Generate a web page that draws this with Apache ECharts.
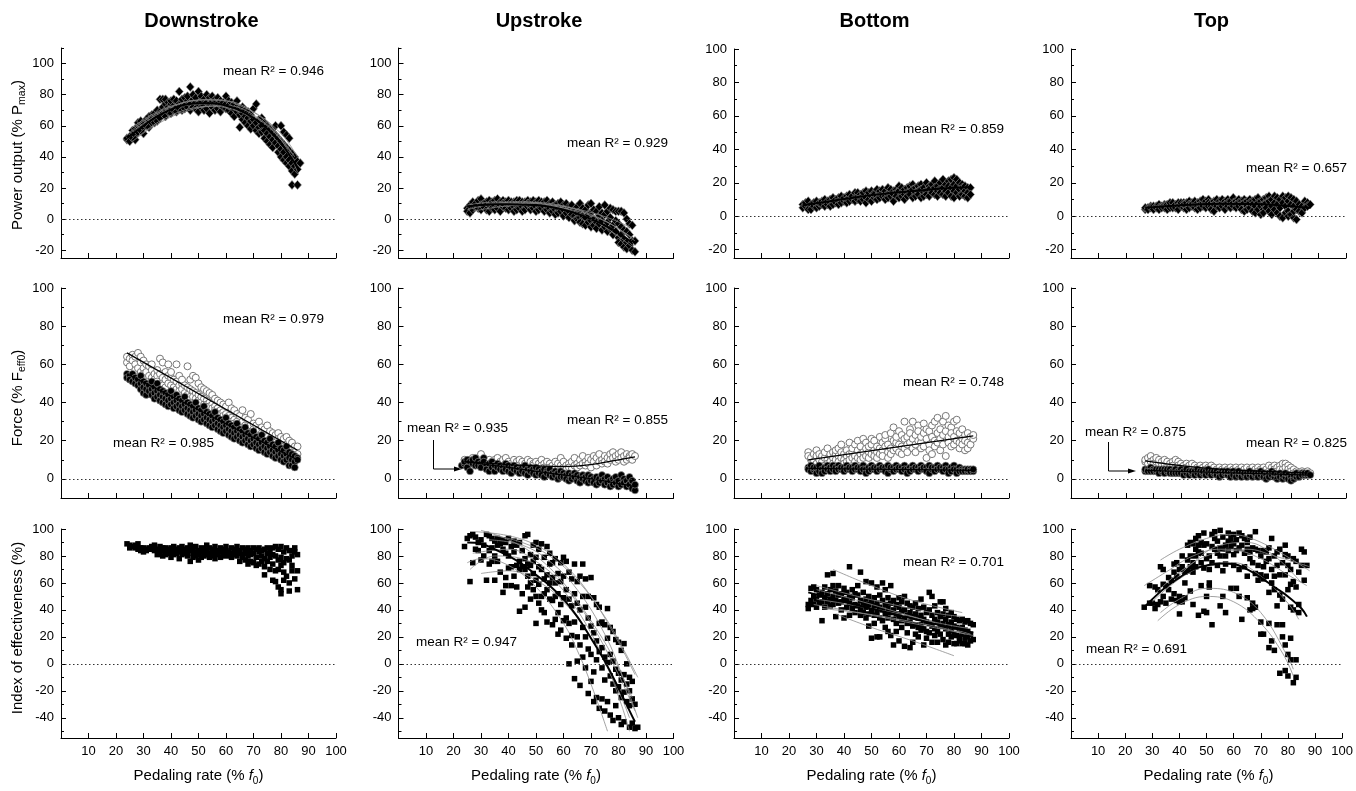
<!DOCTYPE html>
<html><head><meta charset="utf-8">
<script src="https://cdn.jsdelivr.net/npm/echarts@6/dist/echarts.min.js"></script>
<style>html,body{margin:0;padding:0;background:#fff}#c{width:1356px;height:791px}</style>
</head><body><div id="c"></div>
<script>
// ---------- category / tick data ----------
const columnTitles = ['Downstroke', 'Upstroke', 'Bottom', 'Top'];
const yMajorPow = [-20, 0, 20, 40, 60, 80, 100];
const yMinorPowTall = [-10, 10, 30, 50, 70, 90, 110];
const yMinorPow = [-10, 10, 30, 50, 70, 90];
const yMajorForce = [0, 20, 40, 60, 80, 100];
const yMinorForce = [10, 30, 50, 70, 90];
const yMajorIE = [-40, -20, 0, 20, 40, 60, 80, 100];
const yMinorIE = [-50, -30, -10, 10, 30, 50, 70, 90];

// ---------- Row 1: power output (rows: [x, y1, y2, ...]) ----------
const powDown = [[24,51,52],[25,53,50],[26,55,57,52],[27,54,58,51],[28,60,56,62],[29,57,61,63],[30,59,55,62],[31,64,60],[32,63,59,66],[33,62,67,65],[34,68,64,62],[35,66,70,63],[36,77,69,65],[37,68,72,77],[38,70,74,66,77],[39,72,69,75],[40,71,74,68,76],[41,73,70,77],[42,72,76,69],[43,82,74,71],[44,75,70,77],[45,73,78,71],[46,76,72,79],[47,85,74,70],[48,77,72,80],[49,75,71,78],[50,82,74,69],[51,76,72,79],[52,73,77,70],[53,80,75,71],[54,74,78,68],[55,76,72,79],[56,70,75,77],[57,74,71,78],[58,73,76,69],[59,72,75],[60,79,71,74],[61,70,76,73],[62,72,68,75],[63,71,66,74],[64,69,72,76],[65,67,71,59],[66,68,64,72],[67,66,70,62],[68,65,69,60],[69,63,67,58],[70,64,71,60],[71,62,74,57],[72,59,64,55],[73,60,56,65],[74,57,62,52],[75,55,60,50],[76,53,58,48],[77,51,56,46],[78,49,54,60],[79,47,52,43],[80,45,50,40,60],[81,43,48,38,56],[82,40,46,36,54],[83,38,44,34,52],[84,36,42,31,22],[85,34,40,29],[86,37,22,32],[87,36]];
const powDownMean = [[24,52],[30,60],[35,66],[40,70.5],[45,73.5],[50,74.5],[55,74.5],[60,73],[65,70],[70,65],[75,58],[80,49],[85,36],[86,33]];
const powDownFits = [
  [[24,54],[30,63],[40,72],[50,76.5],[60,76],[70,69],[80,55],[86,40]],
  [[26,59],[35,69],[45,75],[55,77],[65,73],[75,62],[85,40]],
  [[26,50],[35,61],[45,69],[55,72.5],[65,69],[75,58],[85,38]],
  [[28,53],[38,65],[50,72],[60,73],[70,67],[80,51],[86,30]],
  [[25,55],[35,67],[45,73],[55,74],[65,70],[75,60],[84,42]]
];
const powUp = [[25,7,5],[26,4,9],[27,11,6],[28,8,10],[29,7,12],[30,13,9,6],[31,10,8],[32,6,11],[33,5,9,12],[34,8,11,7],[35,12,9,6],[36,10,7,13],[37,9,5,11],[38,12,8,10],[39,7,11],[40,10,6,12],[41,9,11,7],[42,11,8,5],[43,12,9,6],[44,10,7,12],[45,8,11,5],[46,11,9,6],[47,12,8,10],[48,9,6,11],[49,10,7,12],[50,11,8,5],[51,9,12,6],[52,10,7,11],[53,8,11,5],[54,9,6,12],[55,10,7,4],[56,11,8,5],[57,9,6,3],[58,10,7,4],[59,8,5,11],[60,9,6,2],[61,7,4,10],[62,8,5,1],[63,7,3,9],[64,6,2,-1],[65,8,4,0],[66,10,5,1,-2],[67,7,2,-3],[68,6,1,-4],[69,9,3,-2],[70,10,4,-1,-5],[71,6,0,-4],[72,5,-2,-6],[73,8,2,-3],[74,4,-1,-7],[75,9,3,-5],[76,5,-2,-8],[77,7,1,-6],[78,6,-4,-10],[79,5,-1,-8],[80,5,-3,-12,-15],[81,5,-5,-10,-16],[82,4,-7,-13,-18],[83,0,-8,-15,-19],[84,-3,-10,-17],[85,-4,-14,-20],[86,-21,-14]];
const powUpMean = [[25,8],[30,9],[35,9.5],[40,9.5],[45,9.3],[50,9],[55,8],[60,6],[65,3.5],[70,0],[75,-4],[80,-9],[85,-15]];
const powUpFits = [
  [[25,6],[35,10],[45,11],[55,10],[65,6],[75,-1],[85,-12]],
  [[25,9],[35,11],[45,11],[55,9],[65,4],[75,-5],[85,-18]],
  [[27,5],[37,8],[47,9],[57,8],[67,4],[77,-3],[86,-14]],
  [[26,8],[36,10],[46,10],[56,9],[66,6],[76,1],[84,-5]]
];
const powBottom = [[25,7,5],[26,6,8],[27,4,9],[28,7,4],[29,8,6],[30,7,5,9],[31,6,8],[32,9,7],[33,8,10,6],[34,9,7],[35,10,8,6],[36,9,11,7],[37,10,8],[38,11,9,7],[39,10,12,8],[40,9,11],[41,12,10,8],[42,11,13,9],[43,10,12],[44,14,11,9],[45,12,10,14],[46,13,11,9],[47,12,14,10],[48,15,11,8],[49,13,10,14],[50,12,15,9],[51,14,11,13],[52,16,12,10],[53,13,15,11],[54,14,12,16],[55,15,12,10],[56,17,13,11],[57,14,16,12],[58,15,13,9],[59,16,14,12],[60,18,15,11],[61,14,17,12],[62,16,13,10],[63,17,14,12],[64,15,18,13],[65,19,16,11],[66,17,14,12],[67,18,15,13],[68,19,16,11],[69,17,14,12],[70,20,15,13],[71,18,16,12],[72,19,15,14],[73,21,17,13],[74,18,15,12],[75,20,16,14],[76,22,17,13],[77,19,15,12],[78,21,18,14],[79,22,17,12],[80,23,19,15,11],[81,22,18,14],[82,20,16,12],[83,19,17,13],[84,18,15,12],[85,17,14,11],[86,17,13]];
const powBottomMean = [[25,6.5],[35,9],[45,11.5],[55,13.5],[65,15],[75,16.5],[86,17.5]];
const powTop = [[27,4,5],[28,5,4],[29,6,5],[30,5,6,4],[31,6,5],[32,7,5,4],[33,6,5],[34,7,6,5],[35,6,7,4],[36,7,5,8],[37,6,8,5],[38,7,5],[39,8,6,4],[40,7,6,8],[41,8,5,7],[42,6,8,4],[43,9,7,5],[44,8,6,7],[45,7,9,5],[46,8,6,4],[47,9,7,5],[48,8,6,10],[49,7,9,5],[50,10,8,6],[51,8,6,4],[52,9,7,3],[53,8,10,6],[54,9,7,5],[55,8,6,10],[56,9,7,4],[57,10,8,6],[58,7,9,5],[59,11,8,6],[60,9,7,5],[61,10,8,6],[62,9,7,4],[63,10,8,3],[64,9,6,4],[65,10,8,5],[66,9,7,3],[67,10,6,2],[68,11,8,4],[69,9,6,1],[70,10,7,4,2],[71,11,8,5],[72,12,9,3],[73,10,6,1],[74,12,8,4],[75,11,7,2],[76,10,5,0],[77,12,8,-1],[78,11,6,2],[79,12,9,3,0],[80,11,7,1],[81,10,6,-1,3],[82,9,4,-2],[83,7,3],[84,6,2],[85,9,5],[86,8,6],[87,7]];
const powTopMean = [[27,5],[40,6.5],[55,7.5],[70,7.2],[80,6],[87,5]];

// ---------- Row 2: force (open = hollow circles, filled = black circles) ----------
const forceDownOpen = [[24,61,64],[25,63,59],[26,65,62],[27,60,64,57],[28,66,58],[29,64,61,56],[30,58,62,55],[31,60,56],[32,59,54],[33,57,53,60],[34,55,52],[35,54,57,51],[36,63,55,50],[37,61,53,49],[38,56,52,48],[39,60,54,50],[40,53,49,56],[41,52,48],[42,60,51,47],[43,54,49,46],[44,50,47,52],[45,49,45],[46,59,48,44],[47,52,47,43],[48,54,46,43],[49,53,45,42],[50,50,44,41],[51,48,43,40],[52,47,42,39],[53,46,41,39],[54,45,40,38],[55,44,39,37],[56,42,38,36],[57,41,37,35],[58,40,36,34],[59,39,35,33],[60,38,34,32],[61,40,33,31],[62,37,32,30],[63,36,31,29],[64,34,30,28],[65,33,29],[66,36,30,27],[67,32,28,26],[68,31,27,25],[69,34,28,24],[70,29,26,23],[71,28,25,22],[72,30,26,22],[73,27,24,21],[74,26,23,20],[75,28,22,19],[76,25,21,18],[77,24,20,17],[78,23,19,16],[79,24,21,17],[80,22,18,15],[81,21,17,14],[82,22,18,13],[83,20,16,14],[84,19,15,12],[85,17,14,11],[86,17,13]];
const forceDownFilled = [[24,55,53],[25,54,52],[26,51,55],[27,50,53],[28,52,49],[29,54,50,47],[30,45,51,48],[31,44,50,47],[32,49,46],[33,51,47,44],[34,48,45,42],[35,50,46,43],[36,47,44,41],[37,43,46,40],[38,45,42,39],[39,44,41,38],[40,46,42,39],[41,43,40,37],[42,44,41,38],[43,42,39,36],[44,41,38,35],[45,43,39,36],[46,40,37,34],[47,39,36,33],[48,38,35,32],[49,40,36,33],[50,37,34,31],[51,36,33,30],[52,38,34,31],[53,35,32,29],[54,34,31,28],[55,33,30,27],[56,35,31,28],[57,32,29,26],[58,31,28,25],[59,30,27,24],[60,32,28,25],[61,29,26,23],[62,28,25,22],[63,27,24,21],[64,29,25,22],[65,26,23,20],[66,25,22,19],[67,27,23,20],[68,24,21,18],[69,23,20,17],[70,25,21,18],[71,22,19,16],[72,21,18,15],[73,23,19,16],[74,20,17,14],[75,19,16,13],[76,21,17,14],[77,18,15,12],[78,17,14,11],[79,19,15,12],[80,16,13,10],[81,15,12,9],[82,17,13,10],[83,14,11,7],[84,13,10,7],[85,12,9,6],[86,11,10]];
const forceDownOpenFit = [[24,66],[86,15]];
const forceDownFilledFit = [[24,55],[86,10]];
const forceUpOpen = [[24,8,10],[25,9,7],[26,10,8],[27,11,8],[28,9,7],[29,10,8],[30,13,9],[31,8,10],[32,9,7],[33,8,10],[34,9,7],[35,10,8],[36,11,7],[37,9,8],[38,10,6],[39,8,11],[40,9,7],[41,8,6],[42,10,7],[43,9,6],[44,8,10],[45,9,6],[46,8,7],[47,10,6],[48,9,5],[49,8,7],[50,9,6],[51,8,5],[52,10,7],[53,8,6],[54,7,9],[55,8,6],[56,7,5],[57,9,6],[58,8,5],[59,11,7],[60,6,9],[61,7,5],[62,8,6],[63,9,5],[64,11,7],[65,8,6],[66,10,7],[67,12,8],[68,9,7],[69,11,8],[70,10,6],[71,12,9],[72,11,7],[73,13,9],[74,10,8],[75,12,9],[76,11,8],[77,13,10],[78,14,11],[79,12,9],[80,13,10],[81,14,11],[82,12,9],[83,13,10],[84,12,11],[85,13,10],[86,12]];
const forceUpFilled = [[23,7],[24,8,9],[25,10,6],[26,4,9],[27,8,10],[28,11,7],[29,9,7],[30,8,6],[31,11,9],[32,7,5],[33,4,8],[34,6,9],[35,4,7],[36,8,6],[37,7,5],[38,6,4],[39,8,5],[40,7,4],[41,6,3],[42,7,5],[43,6,4],[44,5,3],[45,6,4],[46,7,3],[47,5,2],[48,6,4],[49,5,3],[50,6,2],[51,5,3],[52,4,2],[53,5,1],[54,4,3],[55,5,2],[56,3,1],[57,4,2],[58,3,0],[59,4,1],[60,3,1],[61,2,0],[62,3,-1],[63,2,0],[64,3,1],[65,2,-1],[66,1,-2],[67,2,0],[68,1,-1],[69,2,-2],[70,1,-1],[71,0,-2],[72,1,-3],[73,0,-2],[74,2,-1],[75,0,-3],[76,1,-2],[77,-1,-4],[78,0,-3],[79,1,-2],[80,-1,-4],[81,2,-3],[82,0,-2],[83,-1,-4],[84,1,-3],[85,-1,-5],[86,-6,-3]];
const forceUpOpenFit = [[24,9],[30,8.5],[40,7.5],[50,6.8],[60,6.5],[70,7.5],[80,10],[86,11.5]];
const forceUpFilledFit = [[24,9],[40,6],[55,3],[70,0],[86,-4]];
const forceBottomOpen = [[27,14,12],[28,10,11],[29,13,9],[30,15,12,8],[31,10,13],[32,9,12],[33,11,14,7],[34,16,10,8],[35,12,9,13],[36,11,14,8],[37,13,10,15],[38,16,12,9],[39,18,11,14],[40,13,10,8],[41,15,12,9],[42,19,13,10],[43,14,11,16],[44,12,18,9],[45,15,11,20],[46,13,17,10],[47,21,14,11],[48,16,12,19],[49,14,11,17],[50,18,13,21],[51,15,12,20],[52,17,14,11],[53,22,16,13],[54,19,15,12],[55,21,17,23],[56,18,14,11],[57,24,16,13],[58,27,20,15],[59,19,16,22],[60,25,18,14],[61,17,23,13],[62,30,21,16],[63,22,18,14],[64,26,19,24],[65,30,21,16],[66,23,18,14],[67,28,20,25],[68,19,16,22],[69,29,24,17],[70,11,21,26],[71,25,18,15],[72,22,13,28],[73,20,17,30],[74,32,24,19],[75,26,21,15],[76,30,23,18],[77,33,25,12],[78,22,19,28],[79,27,17,24],[80,30,22,18],[81,31,25,20],[82,24,19,16],[83,26,21,18],[84,23,20,15],[85,24,19,16],[86,22,18],[87,21,23]];
const forceBottomFilled = [[27,6,5],[28,7,4],[29,5,6],[30,6,3],[31,4,7],[32,5,3],[33,6,4],[34,7,5],[35,6,4],[36,5,7],[37,6,4],[38,7,5],[39,5,6],[40,6,4],[41,7,5],[42,5,6],[43,6,4],[44,7,5],[45,5,6],[46,6,4],[47,7,5],[48,5,3],[49,6,4],[50,7,5],[51,5,6],[52,6,4],[53,7,5],[54,5,6],[55,6,4],[56,7,3],[57,5,6],[58,6,4],[59,7,5],[60,5,6],[61,6,4],[62,7,5],[63,5,3],[64,6,4],[65,7,5],[66,5,6],[67,6,4],[68,7,5],[69,5,6],[70,6,4],[71,7,3],[72,5,6],[73,6,4],[74,7,5],[75,5,6],[76,6,4],[77,7,5],[78,5,3],[79,6,4],[80,7,5],[81,5,3],[82,6,4],[83,5,4],[84,5,4],[85,4,5],[86,5,4],[87,4,5]];
const forceBottomOpenFit = [[27,10],[87,22.5]];
const forceBottomFilledFit = [[27,5.5],[87,4.5]];
const forceTopOpen = [[27,9,10],[28,11,8],[29,12,9],[30,10,8],[31,9,11],[32,8,10],[33,9,7],[34,8,10],[35,7,9],[36,8,6],[37,9,7],[38,10,6],[39,9,7],[40,8,6],[41,7,5],[42,8,6],[43,7,5],[44,6,8],[45,7,5],[46,6,4],[47,7,5],[48,6,4],[49,7,5],[50,6,4],[51,5,7],[52,6,4],[53,5,3],[54,6,4],[55,5,3],[56,6,4],[57,5,3],[58,6,4],[59,5,3],[60,6,4],[61,5,3],[62,4,6],[63,5,3],[64,4,6],[65,5,3],[66,4,6],[67,5,3],[68,6,4],[69,5,3],[70,6,4],[71,5,3],[72,7,4],[73,6,3],[74,7,5],[75,6,4],[76,7,5],[77,8,5],[78,8,6],[79,7,5],[80,6,4],[81,5,3],[82,4,3],[83,3,2],[84,4,3],[85,3,2],[86,3,4],[87,3]];
const forceTopFilled = [[27,4,5],[28,5,4],[29,6,4],[30,5,4],[31,4,5],[32,5,3],[33,4,5],[34,5,3],[35,4,5],[36,5,3],[37,4,3],[38,5,3],[39,4,3],[40,5,3],[41,4,2],[42,3,5],[43,4,2],[44,3,4],[45,4,2],[46,3,5],[47,4,2],[48,3,4],[49,4,2],[50,3,5],[51,4,2],[52,3,4],[53,4,2],[54,3,1],[55,4,2],[56,3,4],[57,2,4],[58,3,1],[59,4,2],[60,3,1],[61,2,4],[62,3,1],[63,2,3],[64,3,1],[65,2,4],[66,3,1],[67,2,3],[68,3,1],[69,2,4],[70,3,1],[71,2,0],[72,3,1],[73,2,4],[74,1,3],[75,2,0],[76,3,1],[77,0,2],[78,1,3],[79,2,0],[80,1,-1],[81,0,2],[82,1,3],[83,2,1],[84,3,2],[85,2,3],[86,2,3],[87,2]];
const forceTopOpenFit = [[27,9.5],[40,7],[55,5],[70,4],[87,3]];
const forceTopFilledFit = [[27,4.5],[87,2]];

// ---------- Row 3: index of effectiveness ----------
const ieDown = [[24,89],[25,86,88],[26,87],[27,86,88],[28,89,85],[29,86,84],[30,83,86],[31,85,84],[32,86],[33,87,85],[34,86,84,88],[35,85,81],[36,87,83],[37,84,86,80],[38,86,83,81],[39,85,82],[40,86,79,83],[41,84,81,87],[42,85,82],[43,86,78,83],[44,84,81,87],[45,85,82],[46,86,83,80],[47,88,84,76],[48,85,82,79],[49,87,83,80],[50,84,81,77],[51,86,83,79],[52,85,80,82],[53,88,84,81],[54,86,82,79],[55,85,83,80],[56,87,82,78],[57,84,81],[58,86,83,79],[59,85,82,80],[60,87,84,81],[61,83,80],[62,86,82,79],[63,85,81],[64,87,83,80],[65,84,82,76],[66,86,81,79],[67,85,82,77],[68,86,80,74],[69,84,81,76],[70,86,82,75],[71,85,79,73],[72,86,83,74],[73,84,80,76],[74,85,78,66,72],[75,86,82,76],[76,84,79,70],[77,86,81,74,62],[78,87,80,69,61],[79,85,77,57,70],[80,87,79,52,73,55],[81,83,75,62,68],[82,86,78,65],[83,84,77,60,54],[84,80,69,73],[85,86,63,83],[86,81,69,55]];
const ieUp = [[24,87],[25,93],[26,61,95],[27,96,75],[28,85,94],[29,84,90],[30,92,77],[31,88,80],[32,96,62],[33,95,84,74],[34,93,86,76],[35,91,80,62],[36,93,76,88],[37,89,68,92],[38,92,85,53],[39,90,64,58,82],[40,93,80,71],[41,87,72,58],[42,91,83,65],[43,88,73,57],[44,90,76,39,70],[45,84,72,52],[46,78,42,70,95],[47,96,74,65,57],[48,81,73,48,60],[49,88,76,55,67],[50,90,79,62,50,30],[51,85,72,59,45],[52,89,70,50,40],[53,79,63,52,38],[54,87,66,55,31],[55,82,74,60,48],[56,75,64,47,29],[57,78,60,50,33],[58,67,52,38,22],[59,75,61,44,25],[60,79,65,49,32],[61,76,55,34,19],[62,68,48,30,0],[63,63,43,21,14],[64,74,52,31,-11],[65,61,45,20,2],[66,65,40,14,-16],[67,74,50,27,5],[68,63,42,20,-3],[69,50,34,11,-22],[70,64,28,7,-13],[71,49,23,-6,-28],[72,44,17,3,-25],[73,42,30,9,-33],[74,31,12,-3,-26],[75,29,5,-12,-35],[76,41,19,1,-28],[77,27,7,-9,-38],[78,24,2,-15,-42],[79,18,-4,-20,-31],[80,16,-7,-17,-40],[81,10,-12,-25,-45],[82,15,-8,-21,-43],[83,0,-15,-28],[84,-10,-20,-31,-47],[85,-13,-26,-44],[86,-30,-48],[87,-47]];
const ieUpMean = [[25,90],[30,89],[35,85],[40,80],[45,74],[50,66],[55,58],[60,48],[65,35],[70,19],[75,2],[80,-18],[85,-39],[86,-43]];
const ieUpFits = [
  [[28,98],[40,95],[50,88],[60,74],[70,50],[80,16],[86,-8]],
  [[30,99],[40,92],[50,80],[60,60],[70,32],[78,5],[85,-25]],
  [[25,75],[30,78],[40,73],[50,57],[60,30],[65,10],[70,-15],[76,-50]],
  [[30,67],[40,69],[50,62],[60,46],[70,19],[80,-20],[84,-40]],
  [[27,82],[40,85],[50,76],[60,58],[70,30],[80,-8],[86,-35]],
  [[35,95],[45,90],[55,80],[65,62],[75,35],[82,10],[87,-10]],
  [[26,70],[35,80],[45,78],[55,65],[65,40],[75,2],[81,-30],[84,-50]],
  [[33,92],[45,88],[55,76],[65,55],[75,22],[82,-12],[87,-40]]
];
const ieBottom = [[27,44,41],[28,56,47],[29,57,50,44],[30,55,48,42],[31,51,45],[32,53,46,32],[33,57,49,42],[34,66,52,46],[35,55,48,43],[36,58,50,44,67],[37,54,47,35],[38,58,51,45],[39,52,46,40],[40,56,48,34],[41,53,47,42],[42,72,50,45,36],[43,55,49,41],[44,52,44,38],[45,58,51,43],[46,68,47,40,36],[47,53,45,38],[48,61,48,42,34],[49,50,44,37,28],[50,60,46,39,19],[51,49,43,36,30],[52,57,45,38,20],[53,51,42,34,20],[54,60,47,40,32],[55,55,44,37,27],[56,49,41,34,24],[57,58,45,38,21],[58,47,40,33,14],[59,44,37,30,24],[60,49,42,35,17],[61,46,39,32,27],[62,50,40,33,13],[63,45,36,30,23],[64,43,38,31,12],[65,42,35,28,16],[66,45,37,29,22],[67,41,34,27,20],[68,48,36,29,25],[69,42,33,26,14],[70,38,31,24,19],[71,53,40,30,23],[72,50,36,28,16],[73,43,33,26,21],[74,38,31,24,16],[75,46,35,28,22],[76,46,37,30,18],[77,41,33,26,14],[78,36,29,22,16],[79,38,31,25,20],[80,35,28,22,15],[81,33,27,21,15],[82,32,26,20,17],[83,33,27,22,15],[84,31,25,19,15],[85,32,24,20,14],[86,30,22,17],[87,29,18]];
const ieBottomMean = [[27,53],[40,46],[55,38.5],[70,31],[87,23]];
const ieBottomFits = [
  [[36,70],[50,58],[65,47],[83,38]],
  [[37,37],[50,27],[65,17],[80,6]],
  [[30,58],[45,50],[60,43],[75,37],[84,35]],
  [[30,48],[45,43],[60,37],[75,30],[86,26]],
  [[29,44],[45,38],[60,32],[75,26],[87,21]],
  [[32,41],[45,38],[60,33],[75,27],[84,22]],
  [[30,55],[45,47],[60,38],[75,29],[86,22]]
];
const ieTop = [[27,42],[29,58,45],[30,45],[31,41,57],[32,44,55],[33,72,46],[34,70,59,50],[35,58,45],[36,55,64],[37,62,48],[38,68,74,52],[39,75,65,47],[40,37,70,46,50],[41,72,80,46],[42,60,68,49],[43,88,77,69],[44,90,80,72,54],[45,89,75,44,68],[46,93,85,80,72],[47,95,88,36,83],[48,82,90,58,75],[49,97,88,39,71],[50,89,78,50,38],[51,80,70,60,57],[52,96,87,75,29],[53,98,93,85],[54,91,82,73],[55,99,86,80,43],[56,94,85,69,50],[57,88,80,74,38],[58,97,91,84],[59,93,87,56],[60,96,89,81,73],[61,92,84,56],[62,97,86,70,50],[63,95,88,33],[64,93,82,72],[65,90,85,65,49],[66,94,83,78,40],[67,86,75,45,41],[68,98,85,67,42],[69,84,73,62],[70,80,66,31,22],[71,84,72,63,22],[72,83,76,65],[73,86,78,53,30,12],[74,93,70,60,17],[75,80,65,55,10],[76,83,73,43,29],[77,85,66,51,-7],[78,75,48,20,29],[79,88,81,66,14,-5],[80,80,73,55,7,-9],[81,70,59,42,19,3],[82,78,61,40,-14],[83,76,57,3,-10],[84,68,44,38],[85,85,73],[86,83,62],[87,73]];
const ieTopMean = [[27,42],[30,48],[35,57],[40,64],[45,70],[50,73],[55,74.5],[60,74],[65,70],[70,64],[75,57],[80,50],[85,41],[87,35]];
const ieTopFits = [
  [[33,77],[40,85],[50,93],[58,96],[65,94],[75,85],[88,69]],
  [[27,58],[35,68],[45,80],[55,85],[65,85],[75,80],[88,72]],
  [[32,32],[40,44],[50,50],[60,46],[70,30],[78,8],[82,-9]],
  [[33,38],[40,48],[50,56],[60,53],[70,38],[80,5],[82,-4]],
  [[30,46],[40,63],[50,73],[60,75],[70,65],[80,45],[84,33]],
  [[35,55],[45,75],[55,88],[65,90],[75,80],[85,60]],
  [[31,52],[40,68],[50,80],[60,84],[70,78],[80,66],[87,58]]
];

// ---------- layout / style ----------
const FONT = 'Arial, "Liberation Sans", Helvetica, sans-serif';
const colLeft = [61, 398.5, 734, 1071];
const colWidth = 275;

function expand(rows) {
  const out = [];
  rows.forEach(r => { for (let i = 1; i < r.length; i++) out.push([r[0], r[i]]); });
  return out;
}

const yPowTall = {min: -25, max: 110, major: yMajorPow, minor: yMinorPowTall};
const yPow = {min: -25, max: 100, major: yMajorPow, minor: yMinorPow};
const yForce = {min: -10, max: 100, major: yMajorForce, minor: yMinorForce};
const yIE = {min: -55, max: 100, major: yMajorIE, minor: yMinorIE};

const panels = [
  {row:0, col:0, top:48, h:210, y:yPowTall, filled:powDown, sym:'diamond', fits:powDownFits, mean:[powDownMean]},
  {row:0, col:1, top:48, h:210, y:yPowTall, filled:powUp, sym:'diamond', fits:powUpFits, mean:[powUpMean]},
  {row:0, col:2, top:49, h:209, y:yPow, filled:powBottom, sym:'diamond', fits:[], mean:[powBottomMean]},
  {row:0, col:3, top:49, h:209, y:yPow, filled:powTop, sym:'diamond', fits:[], mean:[powTopMean]},
  {row:1, col:0, top:288, h:210, y:yForce, filled:forceDownFilled, open:forceDownOpen, sym:'circle', fits:[], mean:[forceDownOpenFit, forceDownFilledFit]},
  {row:1, col:1, top:288, h:210, y:yForce, filled:forceUpFilled, open:forceUpOpen, sym:'circle', fits:[], mean:[forceUpOpenFit, forceUpFilledFit]},
  {row:1, col:2, top:288, h:210, y:yForce, filled:forceBottomFilled, open:forceBottomOpen, sym:'circle', fits:[], mean:[forceBottomOpenFit, forceBottomFilledFit]},
  {row:1, col:3, top:288, h:210, y:yForce, filled:forceTopFilled, open:forceTopOpen, sym:'circle', fits:[], mean:[forceTopOpenFit, forceTopFilledFit]},
  {row:2, col:0, top:529, h:209, y:yIE, filled:ieDown, sym:'rect', fits:[], mean:[]},
  {row:2, col:1, top:529, h:209, y:yIE, filled:ieUp, sym:'rect', fits:ieUpFits, mean:[ieUpMean]},
  {row:2, col:2, top:529, h:209, y:yIE, filled:ieBottom, sym:'rect', fits:ieBottomFits, mean:[ieBottomMean]},
  {row:2, col:3, top:529, h:209, y:yIE, filled:ieTop, sym:'rect', fits:ieTopFits, mean:[ieTopMean]}
];

const grids = [], xAxes = [], yAxes = [], series = [];
const symSize = {diamond: [8, 9], circle: 7, rect: 5.5};

panels.forEach((p, i) => {
  grids.push({left: colLeft[p.col], top: p.top, width: colWidth, height: p.h});
  xAxes.push({
    gridIndex: i, type: 'value', min: 0, max: 100, interval: 10, position: 'bottom',
    axisLine: {show: true, onZero: false, lineStyle: {color: '#000', width: 1}},
    axisTick: {show: true, inside: true, length: 5, lineStyle: {color: '#000'}},
    axisLabel: {show: p.row === 2, showMinLabel: false, fontSize: 13, color: '#000', fontFamily: FONT, margin: 7},
    splitLine: {show: false}
  });
  yAxes.push({
    gridIndex: i, type: 'value', min: p.y.min, max: p.y.max, position: 'left', offset: 0,
    axisLine: {show: true, onZero: false, lineStyle: {color: '#000', width: 1}},
    axisTick: {show: true, inside: true, length: 5, customValues: p.y.major, lineStyle: {color: '#000'}},
    axisLabel: {show: true, customValues: p.y.major, fontSize: 13, color: '#000', fontFamily: FONT, margin: 7},
    splitLine: {show: false}
  });
  yAxes.push({
    gridIndex: i, type: 'value', min: p.y.min, max: p.y.max, position: 'left', offset: 0,
    axisLine: {show: false, onZero: false},
    axisTick: {show: true, inside: true, length: 3, customValues: p.y.minor, lineStyle: {color: '#000'}},
    axisLabel: {show: false},
    splitLine: {show: false}
  });
  const ax = {xAxisIndex: i, yAxisIndex: 2 * i};
  const zeroLine = {
    silent: true, symbol: ['none', 'none'], label: {show: false},
    lineStyle: {type: [1.5, 2.5], color: '#333', width: 1},
    emphasis: {disabled: true},
    data: [{yAxis: 0}]
  };
  if (p.open) {
    series.push(Object.assign({
      type: 'scatter', data: expand(p.open), symbol: 'circle', symbolSize: 7, silent: true, z: 2,
      itemStyle: {color: '#fff', borderColor: '#777', borderWidth: 1, opacity: 1},
      markLine: zeroLine
    }, ax));
  }
  series.push(Object.assign({
    type: 'scatter', data: expand(p.filled), symbol: p.sym, symbolSize: symSize[p.sym], silent: true, z: 2,
    itemStyle: {color: '#000', borderColor: p.sym === 'rect' ? '#000' : '#999', borderWidth: p.sym === 'rect' ? 0 : 0.6, opacity: 1},
    markLine: p.open ? undefined : zeroLine
  }, ax));
  p.fits.forEach(f => {
    series.push(Object.assign({
      type: 'line', data: f, smooth: 0.4, showSymbol: false, symbol: 'none', silent: true, z: 3,
      lineStyle: {color: '#8a8a8a', width: 0.8}
    }, ax));
  });
  p.mean.forEach(m => {
    series.push(Object.assign({
      type: 'line', data: m, smooth: 0.4, showSymbol: false, symbol: 'none', silent: true, z: 4,
      lineStyle: {color: '#000', width: p.row === 1 ? 1.3 : 2}
    }, ax));
  });
});

// ---------- text / annotations ----------
function txt(x, y, text, size, extra) {
  return {
    type: 'text', x: x, y: y, silent: true,
    style: Object.assign({text: text, fontSize: size, fontFamily: FONT, fill: '#000',
      align: 'left', verticalAlign: 'middle', textAlign: 'left', textVerticalAlign: 'middle'}, extra || {})
  };
}
const graphics = [];
columnTitles.forEach((t, c) => {
  graphics.push(txt(colLeft[c] + colWidth / 2 + 3, 21, t, 20,
    {fontWeight: 'bold', align: 'center', textAlign: 'center'}));
  graphics.push({
    type: 'text', x: colLeft[c] + colWidth / 2, y: 776, silent: true,
    style: {text: '{a|Pedaling rate (% }{i|f}{s|0}{a|)}', align: 'center', verticalAlign: 'middle',
      textAlign: 'center', textVerticalAlign: 'middle',
      rich: {a: {fontSize: 15, fontFamily: FONT, fill: '#000', lineHeight: 20, verticalAlign: 'middle'},
             i: {fontSize: 15, fontFamily: FONT, fontStyle: 'italic', fill: '#000', lineHeight: 20, verticalAlign: 'middle'},
             s: {fontSize: 10, fontFamily: FONT, fill: '#000', lineHeight: 11, verticalAlign: 'bottom'}}}
  });
});
const yNames = [
  {y: 155, text: '{a|Power output (% P}{s|max}{a|)}'},
  {y: 398, text: '{a|Force (% F}{s|eff0}{a|)}'},
  {y: 628, text: '{a|Index of effectiveness (%)}'}
];
yNames.forEach(n => {
  graphics.push({
    type: 'text', x: 18, y: n.y, rotation: Math.PI / 2, silent: true,
    style: {text: n.text, align: 'center', verticalAlign: 'middle', textAlign: 'center', textVerticalAlign: 'middle',
      rich: {a: {fontSize: 15, fontFamily: FONT, fill: '#000', lineHeight: 20, verticalAlign: 'middle'},
             s: {fontSize: 10.5, fontFamily: FONT, fill: '#000', lineHeight: 11, verticalAlign: 'bottom'}}}
  });
});
const r2Labels = [
  [223, 71, '0.946'], [567, 143, '0.929'], [903, 129, '0.859'], [1246, 168, '0.657'],
  [223, 319, '0.979'], [113, 443, '0.985'], [407, 428, '0.935'], [567, 420, '0.855'],
  [903, 382, '0.748'], [1085, 432, '0.875'], [1246, 443, '0.825'],
  [416, 642, '0.947'], [903, 562, '0.701'], [1086, 649, '0.691']
];
r2Labels.forEach(l => graphics.push(txt(l[0], l[1], 'mean R\u00B2 = ' + l[2], 13.5)));
// arrows pointing to the filled-circle fits
[[433.5, 440, 469, 462], [1108.5, 442, 471, 1136]].forEach(a => {
  graphics.push({type: 'polyline', silent: true, shape: {points: [[a[0], a[1]], [a[0], a[2]], [a[3] - 7, a[2]]]},
    style: {stroke: '#000', lineWidth: 1, fill: null}});
  graphics.push({type: 'polygon', silent: true, shape: {points: [[a[3], a[2]], [a[3] - 8, a[2] - 2.5], [a[3] - 8, a[2] + 2.5]]},
    style: {fill: '#000', stroke: null}});
});

const chart = echarts.init(document.getElementById('c'), null, {renderer: 'canvas'});
chart.setOption({
  animation: false,
  backgroundColor: '#fff',
  textStyle: {fontFamily: FONT},
  grid: grids, xAxis: xAxes, yAxis: yAxes, series: series,
  graphic: {elements: graphics}
});
</script>
</body></html>
